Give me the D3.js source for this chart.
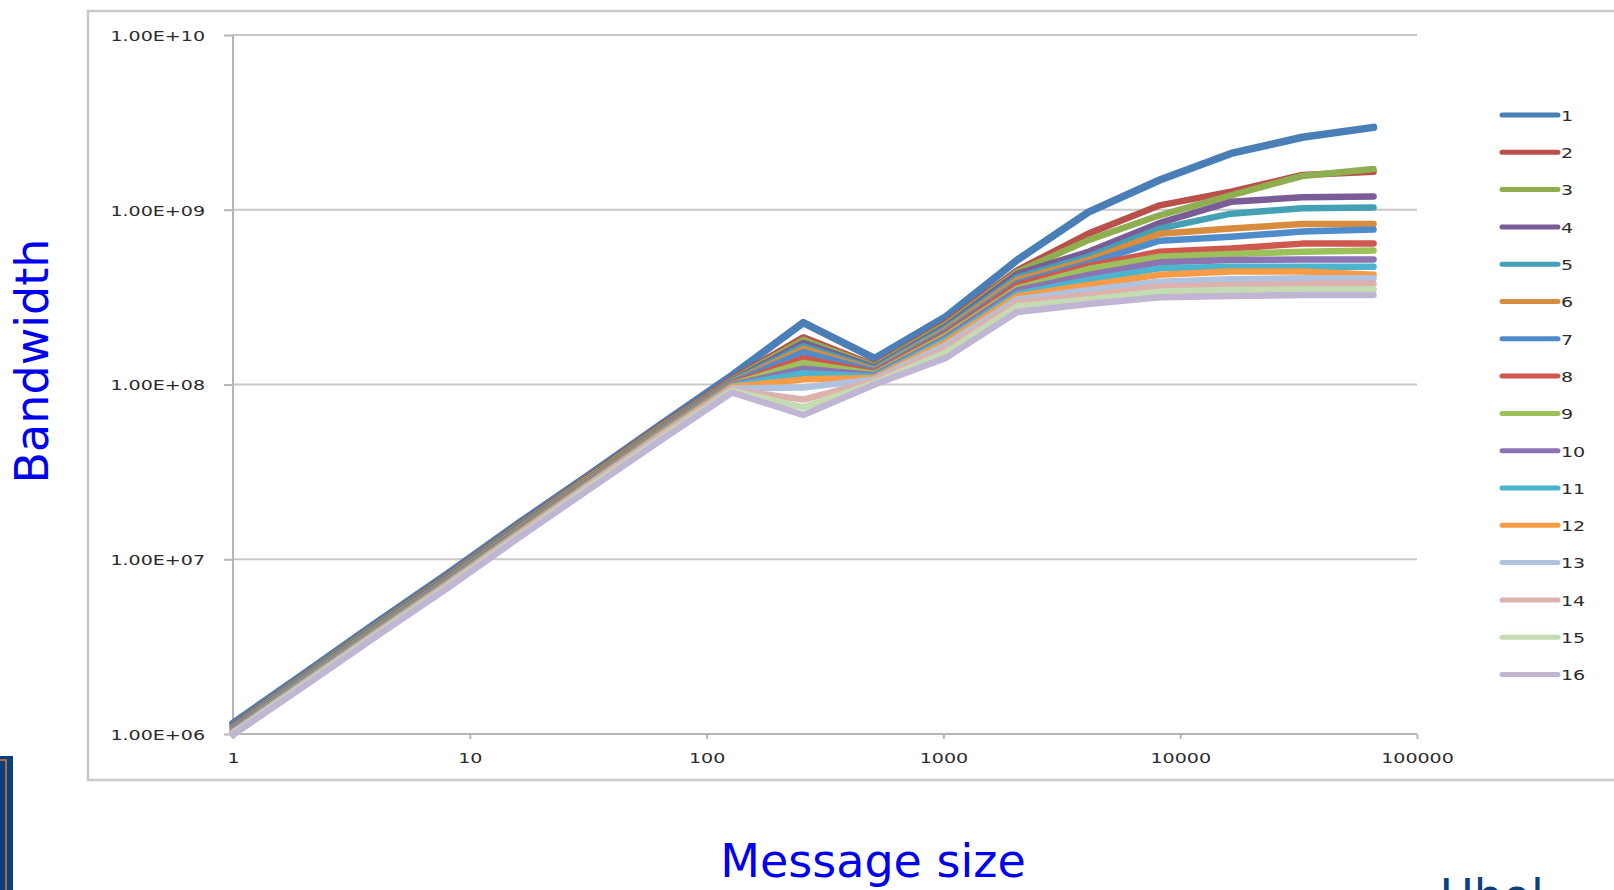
<!DOCTYPE html>
<html>
<head>
<meta charset="utf-8">
<script src="https://cdn.jsdelivr.net/npm/d3@7"></script>
<style>
  html, body { margin: 0; padding: 0; background: #ffffff; overflow: hidden; }
  svg { display: block; }
</style>
</head>
<body>
<svg id="chart" width="1614" height="890"></svg>
<script>
// ---------- DATA ----------
const messageSizes = [1, 2, 4, 8, 16, 32, 64, 128, 256, 512, 1024, 2048, 4096, 8192, 16384, 32768, 65536];
const seriesNames = ["1","2","3","4","5","6","7","8","9","10","11","12","13","14","15","16"];
const seriesColors = ["#4A7EB6","#B9504A","#8FAE4F","#7A5C97","#43A0B5","#D98C3E","#4F8CCB","#D0574E",
                      "#9CC15A","#8C73B2","#4BB5CE","#F79B45","#AFC2DF","#DDB2AE","#C5DCB3","#C0B5D3"];
const s1  = [1.15e6, 2.22e6, 4.3e6, 8.2e6, 1.6e7, 3.05e7, 5.9e7, 1.13e8, 2.26e8, 1.41e8, 2.44e8, 5.15e8, 9.7e8, 1.48e9, 2.1e9, 2.6e9, 2.96e9];
const s2  = [1.12e6, 2.17e6, 4.2e6, 8.0e6, 1.56e7, 3.0e7, 5.8e7, 1.08e8, 1.86e8, 1.29e8, 2.25e8, 4.5e8, 7.3e8, 1.06e9, 1.27e9, 1.58e9, 1.65e9];
const s3  = [1.11e6, 2.15e6, 4.15e6, 7.9e6, 1.54e7, 2.95e7, 5.7e7, 1.06e8, 1.80e8, 1.27e8, 2.2e8, 4.4e8, 6.7e8, 9.3e8, 1.21e9, 1.56e9, 1.71e9];
const s4  = [1.10e6, 2.13e6, 4.1e6, 7.8e6, 1.52e7, 2.9e7, 5.6e7, 1.05e8, 1.73e8, 1.25e8, 2.15e8, 4.3e8, 5.75e8, 8.4e8, 1.11e9, 1.18e9, 1.19e9];
const s5  = [1.09e6, 2.11e6, 4.05e6, 7.7e6, 1.5e7, 2.88e7, 5.55e7, 1.04e8, 1.66e8, 1.23e8, 2.1e8, 4.1e8, 5.4e8, 7.8e8, 9.5e8, 1.02e9, 1.03e9];
const s6  = [1.08e6, 2.09e6, 4.0e6, 7.6e6, 1.48e7, 2.85e7, 5.5e7, 1.03e8, 1.60e8, 1.21e8, 2.05e8, 3.97e8, 5.15e8, 7.3e8, 7.8e8, 8.3e8, 8.3e8];
const s7  = [1.07e6, 2.07e6, 3.95e6, 7.5e6, 1.46e7, 2.82e7, 5.45e7, 1.02e8, 1.53e8, 1.19e8, 2.0e8, 3.8e8, 4.94e8, 6.65e8, 7.0e8, 7.5e8, 7.7e8];
const s8  = [1.06e6, 2.05e6, 3.9e6, 7.4e6, 1.44e7, 2.8e7, 5.4e7, 1.01e8, 1.41e8, 1.17e8, 1.95e8, 3.7e8, 4.77e8, 5.75e8, 6.0e8, 6.4e8, 6.4e8];
const s9  = [1.05e6, 2.03e6, 3.87e6, 7.35e6, 1.43e7, 2.77e7, 5.35e7, 1.0e8, 1.33e8, 1.15e8, 1.9e8, 3.55e8, 4.58e8, 5.38e8, 5.58e8, 5.75e8, 5.84e8];
const s10 = [1.04e6, 2.01e6, 3.84e6, 7.3e6, 1.42e7, 2.75e7, 5.3e7, 9.9e7, 1.23e8, 1.13e8, 1.85e8, 3.45e8, 4.24e8, 5.0e8, 5.15e8, 5.2e8, 5.2e8];
const s11 = [1.03e6, 1.99e6, 3.8e6, 7.25e6, 1.41e7, 2.72e7, 5.25e7, 9.8e7, 1.16e8, 1.11e8, 1.8e8, 3.3e8, 3.97e8, 4.62e8, 4.72e8, 4.72e8, 4.72e8];
const s12 = [1.02e6, 1.97e6, 3.77e6, 7.2e6, 1.4e7, 2.7e7, 5.2e7, 9.7e7, 1.07e8, 1.09e8, 1.75e8, 3.2e8, 3.71e8, 4.24e8, 4.43e8, 4.43e8, 4.24e8];
const s13 = [1.02e6, 1.95e6, 3.74e6, 7.1e6, 1.38e7, 2.66e7, 5.1e7, 9.5e7, 9.6e7, 1.07e8, 1.68e8, 3.07e8, 3.47e8, 3.87e8, 4.0e8, 4.06e8, 4.06e8];
const s14 = [1.01e6, 1.93e6, 3.7e6, 7.0e6, 1.36e7, 2.62e7, 5.0e7, 9.3e7, 8.2e7, 1.05e8, 1.6e8, 2.95e8, 3.25e8, 3.63e8, 3.71e8, 3.76e8, 3.79e8];
const s15 = [1.0e6, 1.91e6, 3.66e6, 6.9e6, 1.34e7, 2.58e7, 4.9e7, 9.2e7, 7.4e7, 1.02e8, 1.52e8, 2.8e8, 3.07e8, 3.4e8, 3.47e8, 3.5e8, 3.5e8];
const s16 = [0.99e6, 1.88e6, 3.6e6, 6.8e6, 1.32e7, 2.52e7, 4.8e7, 9.0e7, 6.7e7, 1.0e8, 1.42e8, 2.6e8, 2.89e8, 3.16e8, 3.21e8, 3.25e8, 3.25e8];
const allSeries = [s1,s2,s3,s4,s5,s6,s7,s8,s9,s10,s11,s12,s13,s14,s15,s16];
const xTickValues = [1, 10, 100, 1000, 10000, 100000];
const xTickLabels = ["1", "10", "100", "1000", "10000", "100000"];
const yTickValues = [1e6, 1e7, 1e8, 1e9, 1e10];
const yTickLabels = ["1.00E+06", "1.00E+07", "1.00E+08", "1.00E+09", "1.00E+10"];
const xTitle = "Message size";
const yTitle = "Bandwidth";

// ---------- LAYOUT ----------
const svg = d3.select("#chart");
const x = d3.scaleLog().domain([1, 100000]).range([233, 1417]);
const y = d3.scaleLog().domain([1e6, 1e10]).range([734, 35]);
const tickFont = "'DejaVu Sans', Verdana, sans-serif";
const stretch = 1.36;

// slide decoration bottom-left
svg.append("rect").attr("x", -10).attr("y", 756).attr("width", 23).attr("height", 200).attr("fill", "#0B3F7E");
svg.append("rect").attr("x", -10).attr("y", 760).attr("width", 16).attr("height", 200)
  .attr("fill", "none").attr("stroke", "#E07A28").attr("stroke-width", 1.5);

// outer chart frame
svg.append("rect").attr("x", 88).attr("y", 11).attr("width", 1560).attr("height", 769)
  .attr("fill", "#ffffff").attr("stroke", "#c9c9c9").attr("stroke-width", 2.5);

// gridlines
svg.append("g").selectAll("line").data(yTickValues.slice(1)).join("line")
  .attr("x1", x(1)).attr("x2", x(100000)).attr("y1", d => y(d)).attr("y2", d => y(d))
  .attr("stroke", "#c8c8c8").attr("stroke-width", 2);

// axes
const yAxis = d3.axisLeft(y).tickValues(yTickValues).tickFormat((d, i) => yTickLabels[i]).tickSize(9).tickPadding(20);
const xAxis = d3.axisBottom(x).tickValues(xTickValues).tickFormat((d, i) => xTickLabels[i]).tickSize(5).tickPadding(12);

const gy = svg.append("g").attr("transform", `translate(${x(1)},0)`).call(yAxis);
const gx = svg.append("g").attr("transform", `translate(0,${y(1e6)})`).call(xAxis);
[gx, gy].forEach(g => {
  g.select(".domain").attr("stroke", "#b5b5b5").attr("stroke-width", 2);
  g.selectAll(".tick line").attr("stroke", "#b5b5b5").attr("stroke-width", 2);
  g.selectAll(".tick text").attr("font-family", tickFont).attr("font-size", 14).attr("fill", "#2b2b2b")
    .each(function() {
      const w = this.getComputedTextLength();
      d3.select(this).attr("textLength", w * stretch).attr("lengthAdjust", "spacingAndGlyphs");
    });
});
gx.select(".domain").attr("d", `M${x(1)},0H${x(100000)}`);
gy.select(".domain").attr("d", `M0,${y(1e6)}V${y(1e10)}`);
gy.selectAll(".tick text").attr("x", -28).attr("dy", "0.38em");
gx.selectAll(".tick text").attr("dy", "0.85em");

// lines
const line = d3.line().x((d, i) => x(messageSizes[i])).y(d => y(d));
svg.append("g").selectAll("path").data(allSeries).join("path")
  .attr("d", d => line(d))
  .attr("fill", "none")
  .attr("stroke", (d, i) => seriesColors[i])
  .attr("stroke-width", (d, i) => i === 0 ? 7.5 : 6.5)
  .attr("stroke-linejoin", "round")
  .attr("stroke-linecap", "round");

// legend
const legend = svg.append("g");
const legY = i => 115 + i * 37.3;
legend.selectAll("line").data(seriesNames).join("line")
  .attr("x1", 1502).attr("x2", 1558).attr("y1", (d, i) => legY(i)).attr("y2", (d, i) => legY(i))
  .attr("stroke", (d, i) => seriesColors[i]).attr("stroke-width", 5).attr("stroke-linecap", "round");
legend.selectAll("text").data(seriesNames).join("text")
  .attr("x", 1561).attr("y", (d, i) => legY(i)).attr("dy", "0.42em")
  .attr("font-family", tickFont).attr("font-size", 14).attr("fill", "#2b2b2b")
  .text(d => d)
  .each(function() {
    const w = this.getComputedTextLength();
    d3.select(this).attr("textLength", w * stretch).attr("lengthAdjust", "spacingAndGlyphs");
  });

// axis titles
svg.append("text").attr("x", 873).attr("y", 877).attr("text-anchor", "middle")
  .attr("font-family", tickFont).attr("font-size", 46).attr("fill", "#0000F0").text(xTitle);
svg.append("text").attr("transform", "translate(48,361) rotate(-90)").attr("text-anchor", "middle")
  .attr("font-family", tickFont).attr("font-size", 46).attr("fill", "#0000F0").text(yTitle);

// cut-off slide footer text (bottom right)
svg.append("text").attr("x", 1440).attr("y", 912)
  .attr("font-family", tickFont).attr("font-size", 46).attr("fill", "#0B3F7E").text("Uhol");
</script>
</body>
</html>
